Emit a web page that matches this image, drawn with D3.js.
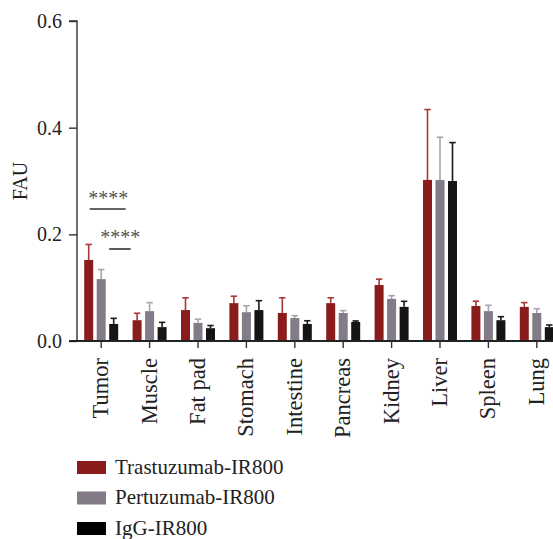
<!DOCTYPE html>
<html>
<head>
<meta charset="utf-8">
<script src="https://cdn.jsdelivr.net/npm/d3@7"></script>
</head>
<body style="margin:0;padding:0;background:#fff">
<svg id="chart" width="553" height="539" style="display:block"></svg>
<script>
// Organ uptake (FAU) per tracer
const categories = ["Tumor", "Muscle", "Fat pad", "Stomach", "Intestine", "Pancreas", "Kidney", "Liver", "Spleen", "Lung"];
const seriesNames = ["Trastuzumab-IR800", "Pertuzumab-IR800", "IgG-IR800"];

const trastuzumab    = [0.152, 0.039, 0.058, 0.071, 0.0525, 0.071, 0.105, 0.302, 0.0656, 0.064];
const trastuzumabErr = [0.029, 0.013, 0.023, 0.013, 0.0285, 0.010, 0.011, 0.132, 0.009, 0.008];
const pertuzumab     = [0.116, 0.056, 0.034, 0.054, 0.043, 0.0525, 0.079, 0.302, 0.056, 0.0525];
const pertuzumabErr  = [0.018, 0.016, 0.007, 0.012, 0.0045, 0.0045, 0.006, 0.080, 0.011, 0.008];
const igg            = [0.032, 0.026, 0.024, 0.058, 0.032, 0.0356, 0.064, 0.300, 0.039, 0.026];
const iggErr         = [0.0105, 0.009, 0.005, 0.0176, 0.006, 0.002, 0.0104, 0.072, 0.0066, 0.004];

const yTicks = [0, 0.2, 0.4, 0.6];
const significance = ["****", "****"];

const barColors = ["#8a1d1b", "#837b87", "#151515"];
const errColors = ["#a8383a", "#a9a3ad", "#1a1a1a"];

const values = [trastuzumab, pertuzumab, igg];
const errors = [trastuzumabErr, pertuzumabErr, iggErr];

const FONT = "'Liberation Serif', 'Times New Roman', serif";
const svg = d3.select("#chart");
const axisX = 77, baseY = 341;

const y = d3.scaleLinear().domain([0, 0.6]).range([baseY, 21]);
const x = d3.scaleBand().domain(categories).range([axisX, axisX + 48.4 * categories.length]).padding(0);
const sub = d3.scalePoint().domain(seriesNames).range([-12.5, 12.5]);
const barW = 9;
const cx = c => x(c) + x.bandwidth() / 2;

// Bars and upper error bars
seriesNames.forEach((s, si) => {
  const g = svg.append("g");
  const rows = categories.map((c, i) => ({ c, v: values[si][i], e: errors[si][i] }));
  g.selectAll("line.err").data(rows).enter().append("line")
    .attr("x1", d => cx(d.c) + sub(s)).attr("x2", d => cx(d.c) + sub(s))
    .attr("y1", d => y(d.v)).attr("y2", d => y(d.v + d.e))
    .attr("stroke", errColors[si]).attr("stroke-width", 1.6);
  g.selectAll("line.cap").data(rows).enter().append("line")
    .attr("x1", d => cx(d.c) + sub(s) - 3.2).attr("x2", d => cx(d.c) + sub(s) + 3.2)
    .attr("y1", d => y(d.v + d.e)).attr("y2", d => y(d.v + d.e))
    .attr("stroke", errColors[si]).attr("stroke-width", 1.6);
  g.selectAll("rect").data(rows).enter().append("rect")
    .attr("x", d => cx(d.c) + sub(s) - barW / 2)
    .attr("width", barW)
    .attr("y", d => y(d.v))
    .attr("height", d => baseY - y(d.v))
    .attr("fill", barColors[si]);
});

// Y axis
const yAxis = d3.axisLeft(y).tickValues(yTicks).tickFormat(d3.format(".1f")).tickSize(8).tickPadding(7);
const gy = svg.append("g").attr("transform", `translate(${axisX},0)`).call(yAxis);
gy.select(".domain").attr("stroke", "#333").attr("stroke-width", 1.4).attr("d", `M-8,${y(0.6)}H0V${baseY}`);
gy.selectAll(".tick line").attr("stroke", "#333").attr("stroke-width", 1.4);
gy.selectAll(".tick text").style("font-family", FONT).style("font-size", "20px").attr("fill", "#222");

// X axis
const xAxis = d3.axisBottom(x).tickSize(7).tickFormat("");
const gx = svg.append("g").attr("transform", `translate(0,${baseY})`).call(xAxis);
gx.select(".domain").attr("stroke", "#222").attr("stroke-width", 1.8).attr("d", `M${axisX - 8},0H553`);
gx.selectAll(".tick line").attr("stroke", "#333").attr("stroke-width", 1.4);

// Category labels, rotated
svg.append("g").selectAll("text").data(categories).enter().append("text")
  .attr("transform", d => `translate(${cx(d) + 7},${baseY + 17}) rotate(-90)`)
  .attr("text-anchor", "end")
  .style("font-family", FONT).style("font-size", "22.5px")
  .attr("fill", "#222")
  .text(d => d);

// Y axis title
svg.append("text")
  .attr("transform", `translate(27,${y(0.3)}) rotate(-90)`)
  .attr("text-anchor", "middle")
  .style("font-family", FONT).style("font-size", "20px")
  .attr("fill", "#222")
  .text("FAU");

// Significance markers for tumor uptake
const t0 = cx("Tumor");
const sig = [
  { x1: t0 - 11.5, x2: t0 + 24.5, ly: 0.2475, tx: t0 + 7, ty: 0.255 },
  { x1: t0 + 8, x2: t0 + 29.5, ly: 0.1725, tx: t0 + 19, ty: 0.182 }
];
sig.forEach((d, i) => {
  svg.append("line").attr("x1", d.x1).attr("x2", d.x2).attr("y1", y(d.ly)).attr("y2", y(d.ly))
    .attr("stroke", "#333").attr("stroke-width", 1.6);
  svg.append("text").attr("x", d.tx).attr("y", y(d.ty)).attr("text-anchor", "middle")
    .style("font-family", FONT).style("font-size", "20px")
    .attr("fill", "#555").text(significance[i]);
});

// Legend
const legend = svg.append("g").attr("transform", "translate(77,461)");
seriesNames.forEach((s, i) => {
  const row = legend.append("g").attr("transform", `translate(0,${i * 30.5})`);
  row.append("rect").attr("width", 29).attr("height", 13).attr("fill", i === 2 ? "#000" : barColors[i]);
  row.append("text").attr("x", 38).attr("y", 12.5)
    .style("font-family", FONT).style("font-size", "21px")
    .attr("fill", "#222").text(s);
});
</script>
</body>
</html>
